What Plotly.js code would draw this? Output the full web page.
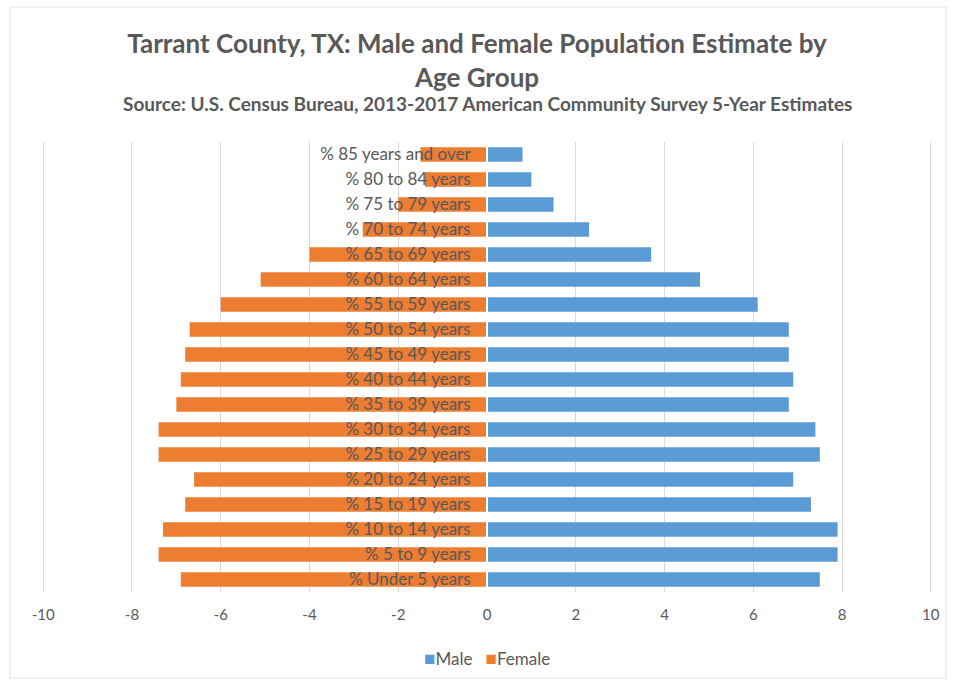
<!DOCTYPE html>
<html>
<head>
<meta charset="utf-8">
<script src="https://cdn.plot.ly/plotly-3.0.1.min.js"></script>
<style>html,body{margin:0;padding:0;background:#fff;}#chart{width:954px;height:684px;}</style>
</head>
<body>
<div id="chart"></div>
<script>
const ageGroups = [
  "% Under 5 years", "% 5 to 9 years", "% 10 to 14 years", "% 15 to 19 years",
  "% 20 to 24 years", "% 25 to 29 years", "% 30 to 34 years", "% 35 to 39 years",
  "% 40 to 44 years", "% 45 to 49 years", "% 50 to 54 years", "% 55 to 59 years",
  "% 60 to 64 years", "% 65 to 69 years", "% 70 to 74 years", "% 75 to 79 years",
  "% 80 to 84 years", "% 85 years and over"
];
const maleValues = [7.5, 7.9, 7.9, 7.3, 6.9, 7.5, 7.4, 6.8, 6.9, 6.8, 6.8, 6.1, 4.8, 3.7, 2.3, 1.5, 1.0, 0.8];
const femaleValues = [-6.9, -7.4, -7.3, -6.8, -6.6, -7.4, -7.4, -7.0, -6.9, -6.8, -6.7, -6.0, -5.1, -4.0, -2.8, -2.0, -1.4, -1.5];
const xTicks = [-10, -8, -6, -4, -2, 0, 2, 4, 6, 8, 10];
const seriesNames = ["Male", "Female"];
const seriesColors = ["#5B9BD5", "#ED7D31"];

const FONT = "Lato, 'Open Sans', sans-serif";
const GRAY = "#595959";

const traces = [
  {type: "bar", orientation: "h", name: seriesNames[0], x: maleValues, y: ageGroups,
   marker: {color: seriesColors[0]}, hoverinfo: "x+y"},
  {type: "bar", orientation: "h", name: seriesNames[1], x: femaleValues, y: ageGroups,
   marker: {color: seriesColors[1]}, hoverinfo: "x+y"}
];

const legendText = seriesNames.map((n, i) =>
  `<span style="color:${seriesColors[i]};font-size:19px">■</span>${n}`).join("&nbsp;&nbsp;&nbsp;");

const L = 41, R = 21;
const layout = {
  width: 954, height: 684,
  paper_bgcolor: "#ffffff", plot_bgcolor: "#ffffff",
  margin: {l: L, r: R, t: 142, b: 92},
  barmode: "relative",
  bargap: 0.42,
  showlegend: false,
  font: {family: FONT, color: GRAY},
  title: {
    text: "<b>Tarrant County, TX: Male and Female Population Estimate by<br>Age Group</b>",
    font: {family: FONT, size: 26, color: GRAY},
    x: 0.5, xanchor: "center", xref: "container",
    y: 1 - 53/684, yanchor: "middle", yref: "container"
  },
  annotations: [{
    text: "<b>Source: U.S. Census Bureau, 2013-2017 American Community Survey 5-Year Estimates</b>",
    xref: "paper", yref: "paper", x: 0.5, y: (592-104)/450,
    xanchor: "center", yanchor: "middle", showarrow: false,
    font: {family: FONT, size: 19, color: GRAY}
  }, {
    text: legendText,
    xref: "paper", yref: "paper", x: 0.5, y: (592-657)/450,
    xanchor: "center", yanchor: "middle", showarrow: false,
    font: {family: FONT, size: 17, color: GRAY}
  }],
  xaxis: {
    range: [-10.05, 10.05], tickvals: xTicks, ticktext: xTicks.map(String),
    showgrid: true, gridcolor: "#d9d9d9", gridwidth: 1,
    zeroline: false, showline: false, ticks: "", ticklabelstandoff: 12,
    tickfont: {family: FONT, size: 15, color: GRAY}, fixedrange: true
  },
  yaxis: {
    type: "category", categoryorder: "array", categoryarray: ageGroups,
    anchor: "free", position: 0.5, side: "left",
    showgrid: false, zeroline: false,
    showline: true, linecolor: "#ffffff", linewidth: 2,
    ticks: "", ticklabelstandoff: 12,
    tickfont: {family: FONT, size: 17, color: GRAY},
    layer: "above traces", fixedrange: true
  },
  shapes: [{
    type: "rect", xref: "paper", yref: "paper",
    x0: (10-L)/(954-L-R), x1: (946-L)/(954-L-R), y0: (592-678)/450, y1: (592-7)/450,
    line: {color: "#e3e3e3", width: 1}, fillcolor: "rgba(0,0,0,0)", layer: "below"
  }]
};

Plotly.newPlot("chart", traces, layout, {displayModeBar: false, staticPlot: true});
</script>
</body>
</html>
